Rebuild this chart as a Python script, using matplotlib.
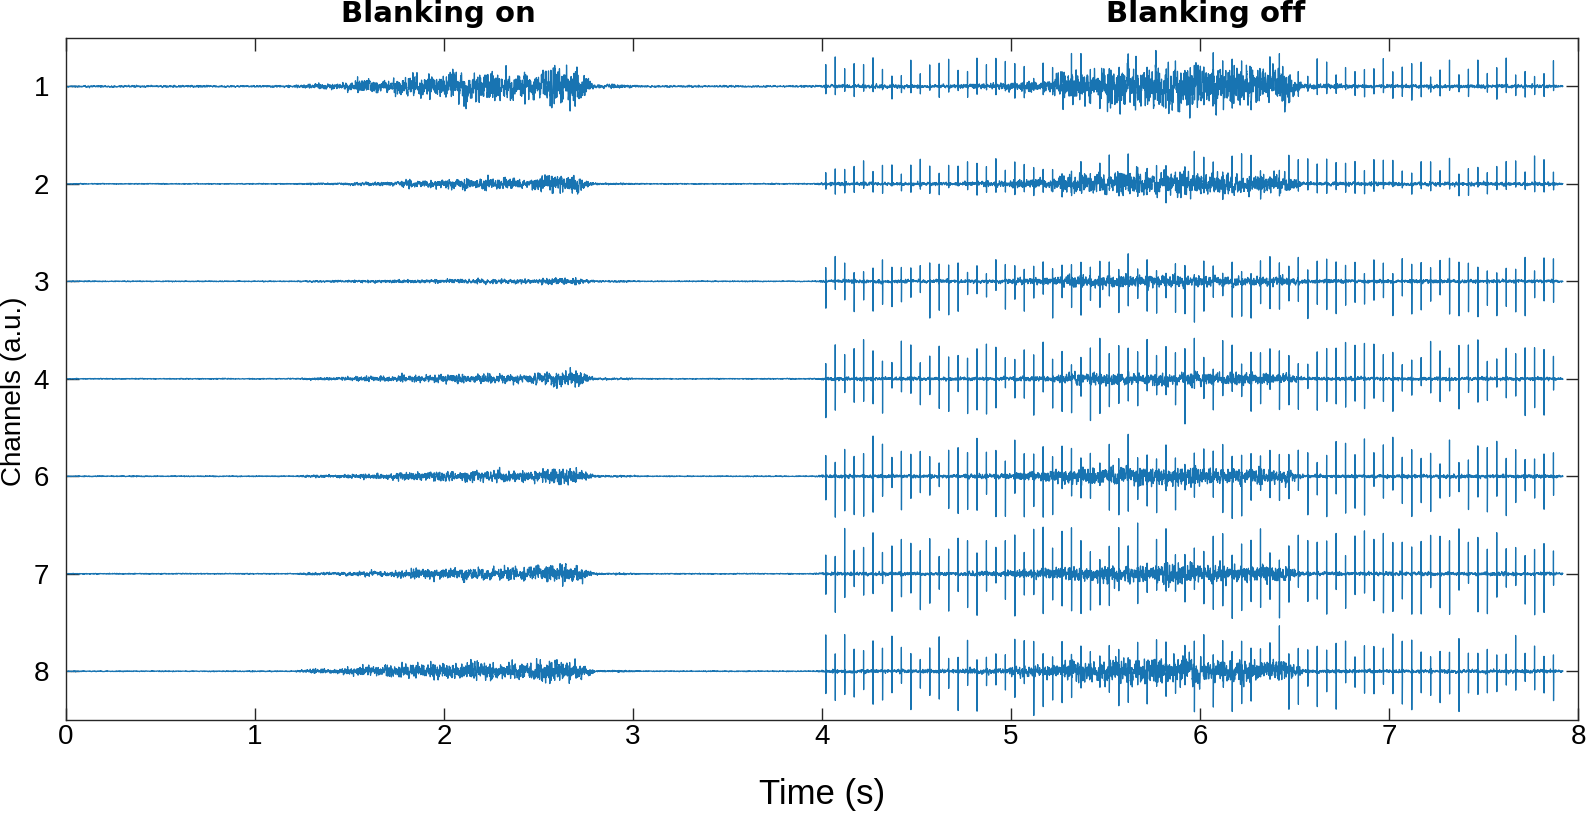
import numpy as np
import matplotlib.pyplot as plt

plt.rcParams['font.family'] = ['Liberation Sans', 'DejaVu Sans']

# channel rows, top to bottom
channels = ['1', '2', '3', '4', '6', '7', '8']

# EMG envelope (peak amplitude, a.u. of row spacing), 0.25 s bins from 0 to 4 s (blanking on)
env_on = [
    [0.01, 0.01, 0.01, 0.01, 0.01, 0.03, 0.08, 0.12, 0.17, 0.15, 0.22, 0.02, 0.01, 0.01, 0.01, 0.01],
    [0.005, 0.005, 0.005, 0.005, 0.005, 0.01, 0.02, 0.04, 0.06, 0.06, 0.10, 0.01, 0.005, 0.005, 0.005, 0.005],
    [0.005, 0.005, 0.005, 0.005, 0.005, 0.01, 0.015, 0.02, 0.025, 0.025, 0.035, 0.01, 0.005, 0.005, 0.005, 0.005],
    [0.005, 0.005, 0.005, 0.005, 0.005, 0.015, 0.03, 0.04, 0.05, 0.05, 0.08, 0.01, 0.005, 0.005, 0.005, 0.005],
    [0.005, 0.005, 0.005, 0.005, 0.005, 0.015, 0.03, 0.05, 0.06, 0.06, 0.09, 0.01, 0.005, 0.005, 0.005, 0.005],
    [0.005, 0.005, 0.005, 0.005, 0.005, 0.015, 0.03, 0.05, 0.07, 0.07, 0.10, 0.01, 0.005, 0.005, 0.005, 0.005],
    [0.005, 0.005, 0.005, 0.005, 0.005, 0.03, 0.06, 0.08, 0.10, 0.09, 0.13, 0.01, 0.005, 0.005, 0.005, 0.005],
]

# EMG envelope, 0.25 s bins from 4 to 8 s (blanking off)
env_off = [
    [0.02, 0.02, 0.02, 0.03, 0.06, 0.18, 0.25, 0.25, 0.22, 0.20, 0.03, 0.02, 0.02, 0.02, 0.02, 0.02],
    [0.02, 0.02, 0.02, 0.03, 0.05, 0.10, 0.13, 0.14, 0.12, 0.11, 0.02, 0.02, 0.02, 0.02, 0.02, 0.02],
    [0.02, 0.02, 0.02, 0.02, 0.04, 0.06, 0.07, 0.07, 0.06, 0.05, 0.02, 0.02, 0.02, 0.02, 0.02, 0.02],
    [0.02, 0.02, 0.02, 0.02, 0.03, 0.06, 0.07, 0.08, 0.07, 0.06, 0.02, 0.02, 0.02, 0.02, 0.02, 0.02],
    [0.02, 0.02, 0.02, 0.03, 0.05, 0.08, 0.10, 0.10, 0.09, 0.08, 0.02, 0.02, 0.02, 0.02, 0.02, 0.02],
    [0.02, 0.02, 0.02, 0.03, 0.05, 0.09, 0.10, 0.11, 0.10, 0.09, 0.02, 0.02, 0.02, 0.02, 0.02, 0.02],
    [0.02, 0.02, 0.02, 0.03, 0.06, 0.12, 0.14, 0.15, 0.14, 0.12, 0.02, 0.02, 0.02, 0.02, 0.02, 0.02],
]

# stimulation artifacts (20 Hz) seen only with blanking off
stim_start = 4.02
stim_period = 0.05
stim_end = 7.9
spike_up = [0.24, 0.22, 0.20, 0.32, 0.33, 0.38, 0.30]
spike_dn = [0.10, 0.09, 0.30, 0.30, 0.33, 0.33, 0.33]

fs = 2000
t_stop = 7.92
titles = ['Blanking on', 'Blanking off']
title_x = [1.97, 6.03]

rng = np.random.default_rng(7)
t = np.arange(0, t_stop, 1 / fs)
n = len(t)
bin_len = int(0.25 * fs)
kern = np.ones(200) / 200

fig = plt.figure(figsize=(15.93, 8.14), dpi=100)
ax = fig.add_axes([0.0414, 0.1155, 0.9492, 0.8383])

for i, ch in enumerate(channels):
    env = np.repeat(np.array(env_on[i] + env_off[i]), bin_len)[:n]
    env = np.convolve(env, kern, mode='same')
    carrier = np.convolve(rng.standard_normal(n), [1, 2, 3, 2, 1], mode='same')
    carrier = carrier / carrier.std() * 0.4
    sig = env * carrier
    stim_t = np.arange(stim_start, stim_end, stim_period)
    idx = np.round(stim_t * fs).astype(int)
    sig[idx] += spike_up[i] * rng.uniform(0.4, 1.25, len(idx))
    sig[idx + 1] -= spike_dn[i] * rng.uniform(0.3, 1.3, len(idx))
    ax.plot(t, (i + 1) - sig, color='#1874B2', lw=0.9)

ax.set_xlim(0, 8)
ax.set_ylim(7.5, 0.5)
ax.set_xticks(range(9))
ax.set_yticks(range(1, len(channels) + 1))
ax.set_yticklabels(channels)
ax.tick_params(direction='in', length=9, width=1, top=True, right=True,
               labelsize=20, colors='#262626', labelcolor='black')
ax.tick_params(axis='x', pad=3)
ax.tick_params(axis='y', pad=12)
for s in ax.spines.values():
    s.set_color('#262626')
    s.set_linewidth(1)

ax.set_xlabel('Time (s)', fontsize=25)
ax.set_ylabel('Channels (a.u.)', fontsize=20)
ax.xaxis.set_label_coords(0.5, -0.085)
ax.yaxis.set_label_coords(-0.026, 0.482)

for x, s in zip(title_x, titles):
    ax.text(x, 1.023, s, transform=ax.get_xaxis_transform(), ha='center', va='baseline',
            fontsize=21, fontweight='bold', family='DejaVu Sans')

fig.savefig('out.png', dpi=100)
